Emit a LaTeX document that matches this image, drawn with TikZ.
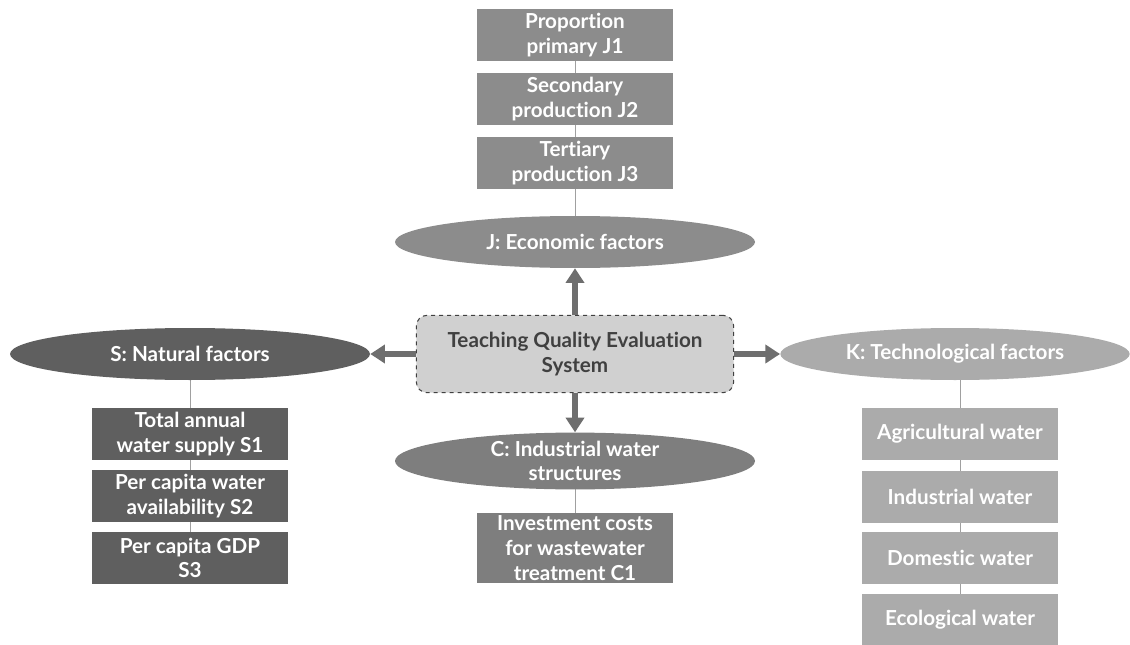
\documentclass[tikz,border=0pt]{standalone}
\usepackage{fontspec}
\setmainfont{Lato}[Ligatures=NoCommon]
\usetikzlibrary{shapes.geometric,arrows.meta}
\definecolor{econgray}{HTML}{8C8C8C}
\definecolor{natgray}{HTML}{5F5F5F}
\definecolor{techgray}{HTML}{ABABAB}
\definecolor{indgray}{HTML}{7E7E7E}
\definecolor{coregray}{HTML}{D0D0D0}
\definecolor{textgray}{HTML}{404040}
\definecolor{arrowgray}{HTML}{6E6E6E}
\definecolor{linegray}{HTML}{A0A0A0}

\begin{document}
\begin{tikzpicture}[x=0.75pt,y=-0.75pt,
    every node/.style={font=\bfseries\fontsize{15.5}{18.5}\selectfont, text=white, align=center, inner sep=0pt},
    item/.style={rectangle, minimum width=147pt, minimum height=39pt},
    factor/.style={ellipse, minimum width=270pt, minimum height=39pt},
    link/.style={draw=linegray, line width=0.6pt},
    bigarrow/.style={draw=arrowgray, line width=4.5pt, -{Triangle[length=11pt,width=13.5pt]}}]
    \useasboundingbox (0,0) rectangle (1130,645);
    \clip (0,0) rectangle (1130,645);
    % links behind the nodes
    \coordinate (jtop) at (575,35);
    \coordinate (stop) at (190,354);
    \coordinate (ktop) at (960,354);
    \coordinate (ctop) at (575,461);
    \draw[link] (jtop) -- (575,242);
    \draw[link] (stop) -- (190,558);
    \draw[link] (ktop) -- (960,620);
    \draw[link] (ctop) -- (575,548);
    % centre
    \node[rectangle, rounded corners=8pt, fill=coregray, draw=textgray, dashed, line width=0.8pt,
          minimum width=238pt, minimum height=58pt, text=textgray] (core) at (575,354)
          {Teaching Quality Evaluation\\System};
    % J: economic
    \node[item, fill=econgray] (j1) at (575,35) {Proportion\\primary J1};
    \node[item, fill=econgray] (j2) at (575,99) {Secondary\\production J2};
    \node[item, fill=econgray] (j3) at (575,163) {Tertiary\\production J3};
    \node[factor, fill=econgray] (j) at (575,242) {J: Economic factors};
    % S: natural
    \node[factor, fill=natgray] (s) at (190,354) {S: Natural factors};
    \node[item, fill=natgray] (s1) at (190,434) {Total annual\\water supply S1};
    \node[item, fill=natgray] (s2) at (190,496) {Per capita water\\availability S2};
    \node[item, fill=natgray] (s3) at (190,558) {Per capita GDP\\S3};
    % K: technological
    \node[factor, fill=techgray, minimum width=262pt] (k) at (955,354) {K: Technological factors};
    \node[item, fill=techgray] (k1) at (960,434) {Agricultural water};
    \node[item, fill=techgray] (k2) at (960,497) {Industrial water};
    \node[item, fill=techgray] (k3) at (960,558) {Domestic water};
    \node[item, fill=techgray] (k4) at (960,620) {Ecological water};
    % C: industrial
    \node[factor, fill=indgray] (c) at (575,461) {C: Industrial water\\structures};
    \node[item, fill=indgray, minimum height=53pt] (c1) at (575,548) {Investment costs\\for wastewater\\treatment C1};
    % arrows
    \draw[bigarrow] (core.north) -- (j.south);
    \draw[bigarrow] (core.south) -- (c.north);
    \draw[bigarrow] (core.west) -- (s.east);
    \draw[bigarrow] (core.east) -- (k.west);
\end{tikzpicture}
\end{document}
